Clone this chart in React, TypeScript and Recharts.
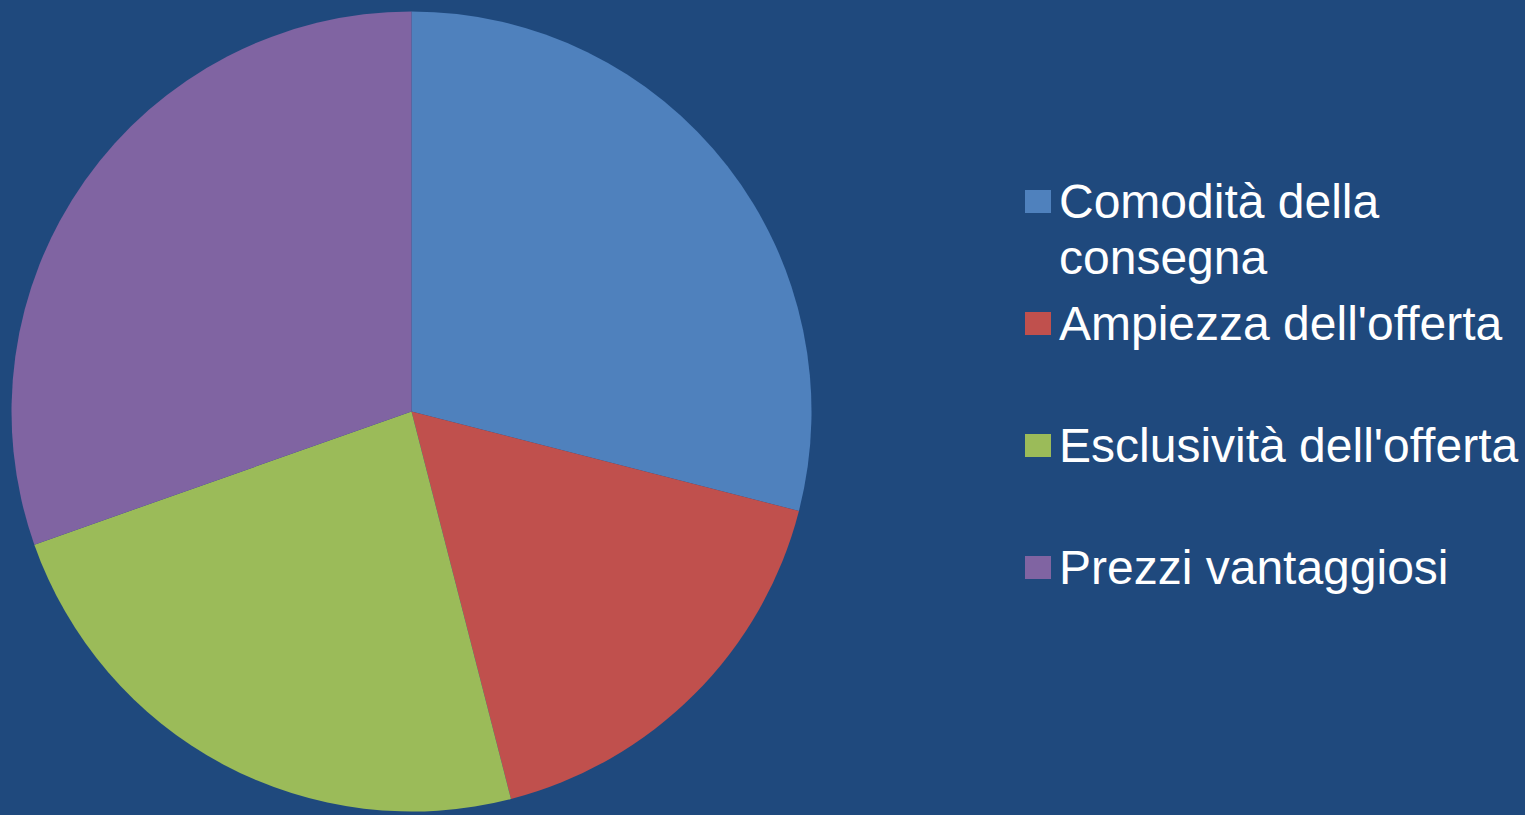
import { PieChart, Pie, Cell, Legend } from 'recharts'

const categories = ['Comodità della consegna', "Ampiezza dell'offerta", "Esclusività dell'offerta", 'Prezzi vantaggiosi']
const values = [29, 17, 23.6, 30.4]
const COLORS = ['#4F81BD', '#C0504D', '#9BBB59', '#8064A2']

const data = categories.map((name, i) => ({ name, value: values[i] }))

// legend drawn by hand so the slots line up like the original slide
function SlideLegend() {
  return (
    <div style={{ fontFamily: '"Liberation Sans", Arial, sans-serif', color: '#fff' }}>
      {categories.map((name, i) => (
        <div key={name} style={{ display: 'flex', alignItems: 'flex-start', height: 122 }}>
          <div
            style={{
              width: 26,
              height: 23,
              marginTop: 16,
              marginRight: 8,
              background: COLORS[i],
              flexShrink: 0,
            }}
          />
          <div style={{ width: 470, fontSize: 48, lineHeight: '56px' }}>{name}</div>
        </div>
      ))}
    </div>
  )
}

export default function App() {
  return (
    <div
      style={{
        position: 'absolute',
        left: 0,
        top: 0,
        width: 1525,
        height: 815,
        overflow: 'hidden',
        background: '#1F497D',
      }}
    >
      <PieChart width={1525} height={815} margin={{ top: 0, right: 0, bottom: 0, left: 0 }}>
        <Pie
          data={data}
          dataKey="value"
          nameKey="name"
          cx={411.5}
          cy={411.5}
          outerRadius={400}
          startAngle={90}
          endAngle={-270}
          stroke="none"
          isAnimationActive={false}
        >
          {data.map((d, i) => (
            <Cell key={d.name} fill={COLORS[i]} />
          ))}
        </Pie>
        <Legend
          content={<SlideLegend />}
          wrapperStyle={{ left: 1025, top: 174, width: 510, bottom: 'auto' }}
        />
      </PieChart>
    </div>
  )
}
